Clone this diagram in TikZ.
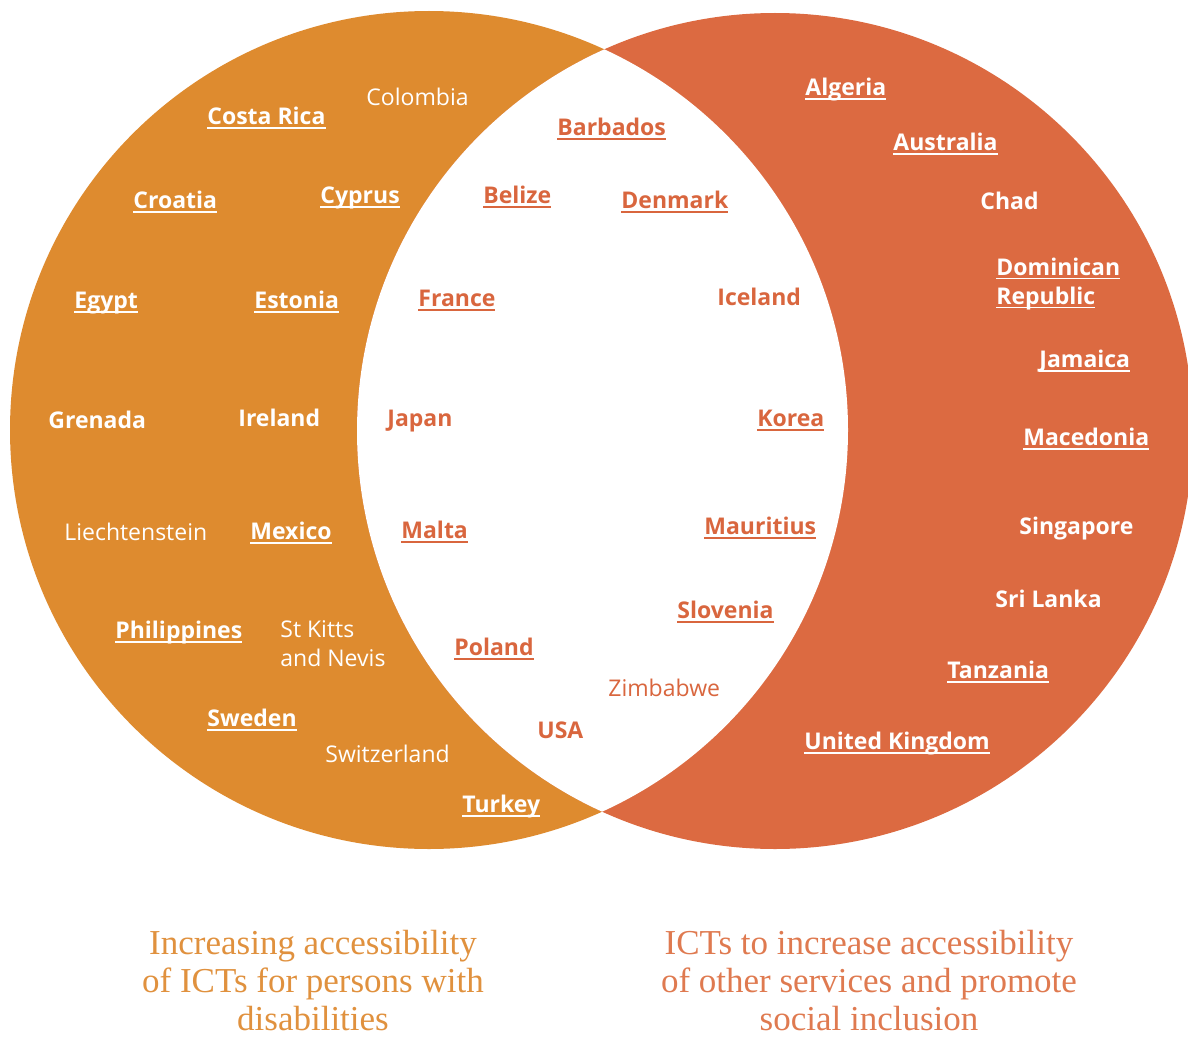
\documentclass[tikz,border=0pt]{standalone}
\usepackage{fontspec}
\setmainfont{Liberation Serif}
\newfontfamily\labelfont{Open Sans}
\usepackage{xcolor}
\usepackage{tikz}
\definecolor{leftorange}{HTML}{DE8B2F}
\definecolor{rightorange}{HTML}{DC6A41}
\definecolor{lenstext}{HTML}{D9663E}
\definecolor{captionleft}{HTML}{E0913E}
\definecolor{captionright}{HTML}{DF7A50}
\newcommand{\boldlabel}{\labelfont\fontsize{11.5}{14.5}\selectfont\bfseries}
\newcommand{\plainlabel}{\labelfont\fontsize{11.5}{14.5}\selectfont\mdseries}
\newcommand{\undl}[1]{\setbox0\hbox{#1}\rlap{\rule[-2pt]{\wd0}{0.75pt}}\box0}
\tikzstyle{country} = [anchor=mid west, inner sep=0pt, yshift=-2pt, text=white, font=\boldlabel]
\tikzstyle{regular} = [font=\plainlabel]
\tikzstyle{shared} = [text=lenstext]
\tikzstyle{caption} = [align=center, inner sep=0pt, font=\fontsize{17.5}{19}\selectfont]

\begin{document}
\begin{tikzpicture}[x=0.5pt, y=-0.5pt]
   \useasboundingbox (0,0) rectangle (1188,1038);
   \fill [leftorange] (429,430) circle (419);
   \fill [rightorange] (775,431) circle (418);
   \begin{scope}
      \clip (429,430) circle (419);
      \fill [white] (775,431) circle (418);
   \end{scope}

   \node (costarica) [country] at (207,116) {\undl{Costa Rica}};
   \node (colombia) [country, regular] at (366,97) {Colombia};
   \node (croatia) [country] at (133,200) {\undl{Croatia}};
   \node (cyprus) [country] at (320,195) {\undl{Cyprus}};
   \node (egypt) [country] at (74,300) {\undl{Egypt}};
   \node (estonia) [country] at (254,300) {\undl{Estonia}};
   \node (grenada) [country] at (48,420) {Grenada};
   \node (ireland) [country] at (238,418) {Ireland};
   \node (liechtenstein) [country, regular] at (64,532) {Liechtenstein};
   \node (mexico) [country] at (250,531) {\undl{Mexico}};
   \node (philippines) [country] at (115,630) {\undl{Philippines}};
   \node (stkitts) [country, regular, anchor=west, align=left] at (280,640) {St Kitts\\and Nevis};
   \node (sweden) [country] at (207,718) {\undl{Sweden}};
   \node (switzerland) [country, regular] at (325,754) {Switzerland};
   \node (turkey) [country] at (462,804) {\undl{Turkey}};

   \node (barbados) [country, shared] at (557,127) {\undl{Barbados}};
   \node (belize) [country, shared] at (483,195) {\undl{Belize}};
   \node (denmark) [country, shared] at (621,200) {\undl{Denmark}};
   \node (france) [country, shared] at (418,298) {\undl{France}};
   \node (iceland) [country, shared] at (717,297) {Iceland};
   \node (japan) [country, shared] at (387,418) {Japan};
   \node (korea) [country, shared] at (757,418) {\undl{Korea}};
   \node (malta) [country, shared] at (401,530) {\undl{Malta}};
   \node (mauritius) [country, shared] at (704,526) {\undl{Mauritius}};
   \node (poland) [country, shared] at (454,647) {\undl{Poland}};
   \node (slovenia) [country, shared] at (677,610) {\undl{Slovenia}};
   \node (zimbabwe) [country, shared, regular] at (608,688) {Zimbabwe};
   \node (usa) [country, shared] at (537,730) {USA};

   \node (algeria) [country] at (805,87) {\undl{Algeria}};
   \node (australia) [country] at (893,142) {\undl{Australia}};
   \node (chad) [country] at (980,201) {Chad};
   \node (dominican) [country, anchor=west, align=left] at (996,280) {\undl{Dominican}\\\undl{Republic}};
   \node (jamaica) [country] at (1039,359) {\undl{Jamaica}};
   \node (macedonia) [country] at (1023,437) {\undl{Macedonia}};
   \node (singapore) [country] at (1019,526) {Singapore};
   \node (srilanka) [country] at (995,599) {Sri Lanka};
   \node (tanzania) [country] at (947,670) {\undl{Tanzania}};
   \node (uk) [country] at (804,741) {\undl{United Kingdom}};

   \node (disabilities) [caption, text=captionleft] at (313,981) {Increasing accessibility\\of ICTs for persons with\\disabilities};
   \node (inclusion) [caption, text=captionright] at (869,981) {ICTs to increase accessibility\\of other services and promote\\social inclusion};
\end{tikzpicture}
\end{document}
